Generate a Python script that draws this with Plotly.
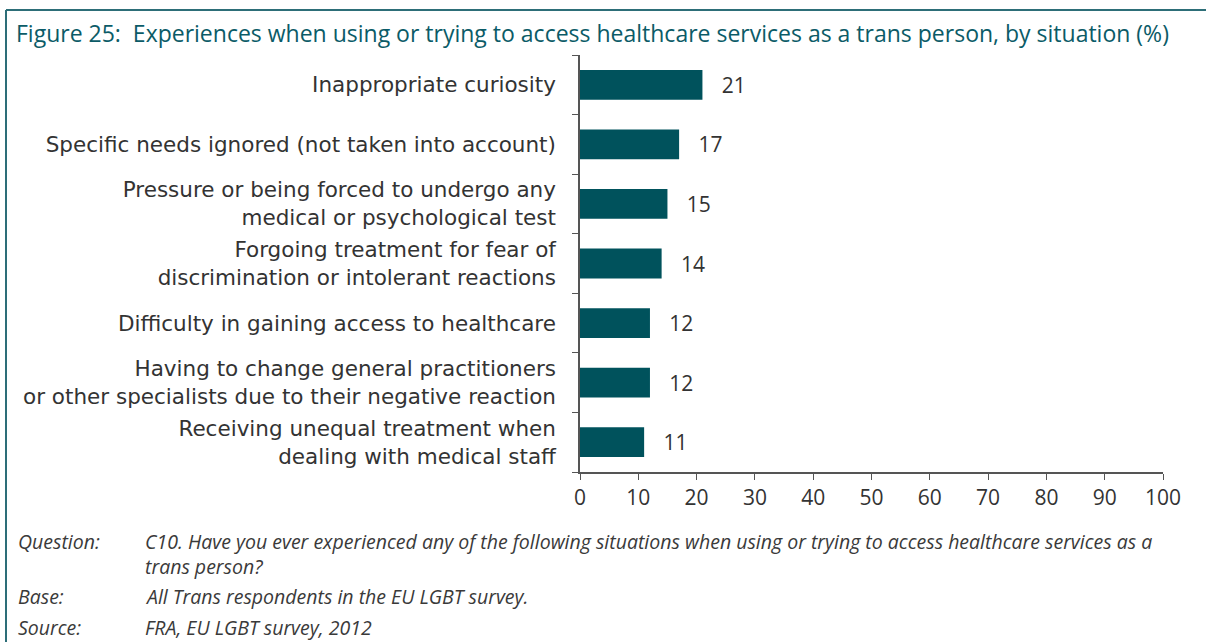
import plotly.graph_objects as go

# data (top to bottom as in the figure)
situations = [
    "Inappropriate curiosity",
    "Specific needs ignored (not taken into account)",
    "Pressure or being forced to undergo any<br>medical or psychological test",
    "Forgoing treatment for fear of<br>discrimination or intolerant reactions",
    "Difficulty in gaining access to healthcare",
    "Having to change general practitioners<br>or other specialists due to their negative reaction",
    "Receiving unequal treatment when<br>dealing with medical staff",
]
shares = [21, 17, 15, 14, 12, 12, 11]
x_ticks = [0, 10, 20, 30, 40, 50, 60, 70, 80, 90, 100]

title_text = "Figure 25:  Experiences when using or trying to access healthcare services as a trans person, by situation (%)"
notes = [
    ("Question:", "C10. Have you ever experienced any of the following situations when using or trying to access healthcare services as a<br>trans person?"),
    ("Base:", "All Trans respondents in the EU LGBT survey."),
    ("Source:", "FRA, EU LGBT survey, 2012"),
]

W, H = 1206, 642
ml, mr, mt, mb = 580, 43, 55, 170
pw, ph = W - ml - mr, H - mt - mb

def px(x):
    return (x - ml) / pw

def py(y):
    return 1 - (y - mt) / ph

teal = "#00525c"
dark = "#333333"
label_font = "DejaVu Sans"

fig = go.Figure()
fig.add_trace(go.Bar(
    x=shares, y=situations, orientation="h",
    marker=dict(color=teal, line=dict(width=0)),
    width=0.5,
    text=[f"   {v}" for v in shares], textposition="outside",
    textfont=dict(size=21, color=dark, family="Open Sans"),
    cliponaxis=False,
))

fig.update_layout(
    width=W, height=H,
    margin=dict(l=ml, r=mr, t=mt, b=mb),
    paper_bgcolor="white", plot_bgcolor="white",
    showlegend=False,
    font=dict(family="Open Sans", color=dark, size=20),
    xaxis=dict(range=[0, 100], tickvals=x_ticks, showgrid=False, zeroline=False,
               showline=True, linecolor="#555555", linewidth=1.5,
               ticks="outside", ticklen=6, tickcolor="#555555",
               tickfont=dict(size=21, color=dark)),
    yaxis=dict(categoryorder="array", categoryarray=situations[::-1],
               showgrid=False, showline=True, linecolor="#555555", linewidth=1.5,
               ticks="outside", ticklen=6, tickcolor="#555555", tickson="boundaries",
               ticklabelstandoff=18, tickfont=dict(size=21.5, color=dark, family=label_font)),
)

# frame lines (top and left)
fig.add_shape(type="line", xref="paper", yref="paper", x0=px(6), x1=px(W), y0=py(10), y1=py(10),
              line=dict(color="#2d6e78", width=2))
fig.add_shape(type="line", xref="paper", yref="paper", x0=px(6), x1=px(6), y0=py(10), y1=py(H),
              line=dict(color="#2d6e78", width=2))

fig.add_annotation(text=title_text, xref="paper", yref="paper", x=px(14), y=py(33),
                   xanchor="left", yanchor="middle", showarrow=False,
                   font=dict(size=23, color="#0b5b67", family="Open Sans"))

note_font = dict(size=19.5, color="#3a3a3a", family="Open Sans")
note_y = [540, 596, 627]
for (lab, txt), yy in zip(notes, note_y):
    two = "<br>" in txt
    fig.add_annotation(text=f"<i>{lab}</i>", xref="paper", yref="paper", x=px(16), y=py(yy),
                       xanchor="left", yanchor="top" if two else "middle",
                       yshift=14 if two else 0,
                       showarrow=False, font=note_font)
    fig.add_annotation(text=f"<i>{txt}</i>", xref="paper", yref="paper", x=px(143), y=py(yy),
                       xanchor="left", yanchor="top" if two else "middle",
                       yshift=14 if two else 0, align="left",
                       showarrow=False, font=note_font)

fig.write_html("out.html", config={"displayModeBar": False},
               post_script="document.body.style.margin='0';")
